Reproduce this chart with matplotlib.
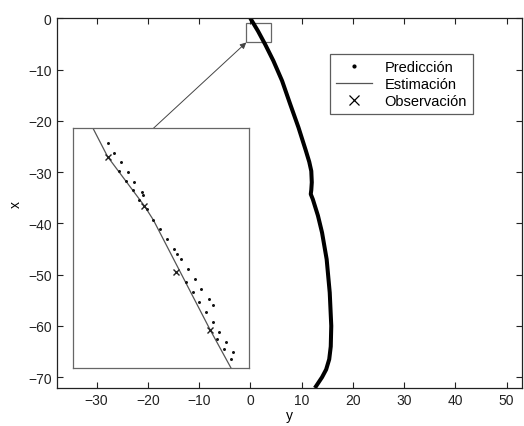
import matplotlib
matplotlib.use("Agg")
import matplotlib.pyplot as plt
from matplotlib.patches import Rectangle

plt.rcParams['font.family'] = ['Liberation Sans', 'DejaVu Sans']
plt.rcParams['font.size'] = 10

# Main trajectory (horizontal = y, vertical = x)
traj_y = [0.0, 1.5, 2.9, 4.5, 6.2, 7.8, 9.4, 10.8, 11.5, 11.9, 12.0, 11.9,
          11.8, 12.2, 13.2, 14.0, 14.9, 15.5, 15.8, 15.7, 15.4, 14.8, 14.0,
          13.2, 12.6]
traj_x = [0.0, -2.5, -5.1, -8.3, -12.2, -16.8, -21.3, -25.7, -28.0, -29.8,
          -32.0, -33.5, -34.3, -35.3, -38.5, -41.8, -47.0, -53.5, -60.0,
          -64.0, -66.5, -68.5, -70.0, -71.2, -72.1]

# Zoomed region (main axes data units)
zoom_y = [-0.78, 4.0]
zoom_x = [-4.73, -0.84]

# Inset: estimated track
est_y = [-0.246, 0.146, 1.144, 1.390, 2.936, 3.509]
est_x = [-0.805, -1.26, -2.059, -2.290, -4.078, -4.705]

# Inset: observations
obs_y = [0.146, 1.144, 2.009, 2.936]
obs_x = [-1.260, -2.056, -3.138, -4.078]

# Inset: predictions
pred_y = [0.146, 0.326, 0.509, 0.463, 0.692, 0.645, 0.872, 0.828, 1.073,
          1.117, 1.008, 1.210, 1.390, 1.572, 1.772, 1.962, 2.028, 2.137,
          2.328, 2.508, 2.273, 2.691, 2.453, 2.890, 2.636, 3.000, 2.819,
          3.000, 3.181, 3.119, 3.372, 3.318, 3.555, 3.509]
pred_x = [-1.044, -1.195, -1.348, -1.494, -1.510, -1.656, -1.666, -1.808,
          -1.829, -1.884, -1.970, -2.116, -2.290, -2.441, -2.604, -2.758,
          -2.848, -2.917, -3.080, -3.242, -3.298, -3.405, -3.460, -3.567,
          -3.623, -3.676, -3.785, -3.948, -4.110, -4.229, -4.266, -4.391,
          -4.435, -4.554]

fig = plt.figure(figsize=(5.24, 4.27), dpi=100)
ax = fig.add_axes([0.108, 0.089, 0.888, 0.866])

ax.plot(traj_y, traj_x, color='black', lw=2.9, solid_capstyle='butt',
        solid_joinstyle='round')
ax.set_xlim(-37.8, 53.0)
ax.set_ylim(-72.1, 0)
ax.set_xticks([-30, -20, -10, 0, 10, 20, 30, 40, 50])
ax.set_yticks([0, -10, -20, -30, -40, -50, -60, -70])
ax.tick_params(direction='in', top=True, right=True, length=4, width=0.8,
               labelsize=10, colors='#222222')
for s in ax.spines.values():
    s.set_linewidth(0.9)
    s.set_color('#222222')
ax.set_xlabel('y', fontsize=10, labelpad=1)
ax.set_ylabel('x', fontsize=10, labelpad=4)

ax.add_patch(Rectangle((zoom_y[0], zoom_x[0]), zoom_y[1] - zoom_y[0],
                       zoom_x[1] - zoom_x[0], fill=False, ec='#666666', lw=0.9))

# legend handles
ax.plot([], [], ls='none', marker='.', ms=4, color='black', label='Predicción')
ax.plot([], [], color='#555555', lw=0.9, label='Estimación')
ax.plot([], [], ls='none', marker='x', ms=7, mew=0.9, color='black', label='Observación')
h, l = ax.get_legend_handles_labels()
leg = ax.legend(h[-3:], l[-3:], loc='upper left', bbox_to_anchor=(0.587, 0.903),
                frameon=True, fancybox=False, edgecolor='#333333',
                handlelength=2.5, handletextpad=0.85, borderpad=0.4,
                borderaxespad=0, labelspacing=0.2, fontsize=10.5)
leg.get_frame().set_linewidth(0.9)

# inset
axin = fig.add_axes([0.139, 0.135, 0.337, 0.562])
axin.plot(est_y, est_x, color='#555555', lw=0.9)
axin.plot(pred_y, pred_x, ls='none', marker='.', ms=2.3, color='#111111')
axin.plot(obs_y, obs_x, ls='none', marker='x', ms=5, mew=1.0, color='#222222')
axin.set_xlim(-0.8, 4.0)
axin.set_ylim(-4.7, -0.8)
axin.set_xticks([])
axin.set_yticks([])
for s in axin.spines.values():
    s.set_linewidth(0.9)
    s.set_color('#666666')

ax.annotate('', xy=(zoom_y[0], zoom_x[0]), xycoords='data',
            xytext=(0.2926, 0.697), textcoords='figure fraction',
            arrowprops=dict(arrowstyle='-|>', color='#444444', lw=0.7,
                            mutation_scale=9, shrinkA=0, shrinkB=0))

fig.savefig('out.png', dpi=100)
